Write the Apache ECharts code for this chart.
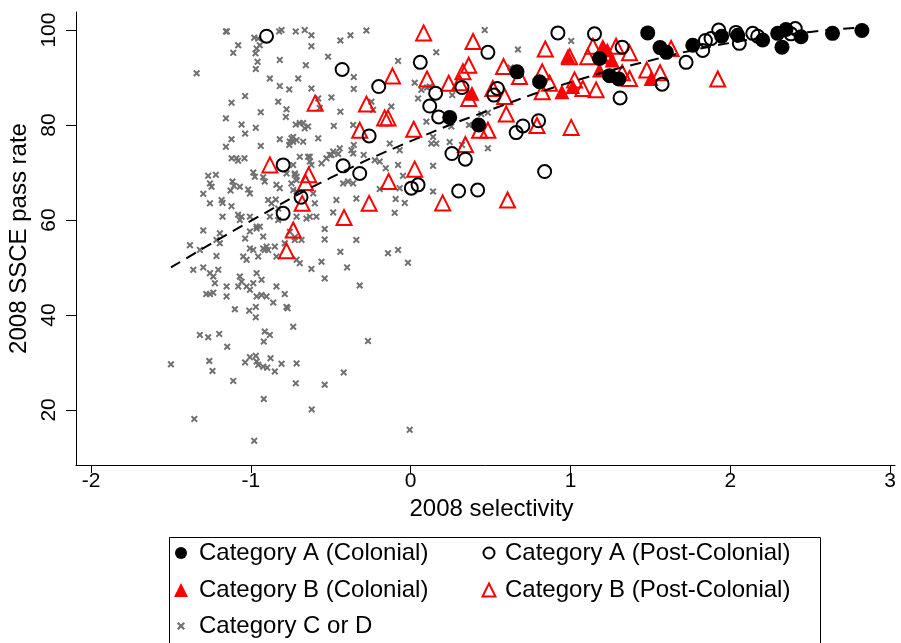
<!DOCTYPE html>
<html>
<head>
<meta charset="utf-8">
<script src="https://cdn.jsdelivr.net/npm/echarts@6/dist/echarts.min.js"></script>
<style>
  html, body { margin: 0; padding: 0; background: #fff; }
  #chart { width: 901px; height: 643px; }
</style>
</head>
<body>
<div id="chart"></div>
<script>
// data: [selectivity, pass rate]
const catAColonial = [
  [0.244, 81.6], [0.425, 80.0], [0.665, 91.2], [0.806, 89.1], [1.181, 94.0], [1.244, 90.4],
  [1.302, 89.7], [1.483, 99.4], [1.56, 96.3], [1.6, 95.3], [1.765, 96.8], [1.945, 98.7],
  [2.046, 98.9], [2.202, 97.9], [2.296, 99.3], [2.348, 100.1], [2.323, 96.4], [2.442, 98.6],
  [2.639, 99.3], [2.823, 99.9]
];
const catAPost = [
  [-0.902, 98.7], [-0.798, 71.6], [-0.686, 64.8], [-0.798, 61.4], [-0.429, 91.7], [-0.2, 88.1],
  [0.06, 93.2], [0.156, 86.7], [0.119, 84.0], [0.175, 81.7], [-0.26, 77.7], [-0.423, 71.4],
  [-0.319, 69.8], [0.004, 66.7], [0.046, 67.4], [0.921, 99.4], [0.483, 95.3], [0.321, 87.9],
  [0.542, 87.7], [0.521, 86.3], [0.8, 80.9], [0.702, 79.8], [0.66, 78.4], [0.258, 74.0],
  [0.342, 72.8], [0.838, 70.2], [0.3, 66.1], [0.419, 66.3], [1.15, 99.2], [1.323, 96.4],
  [1.723, 93.2], [1.573, 88.6], [1.31, 85.7], [1.927, 100], [1.827, 95.7], [1.844, 97.8],
  [1.879, 98.2], [2.056, 97.2], [2.14, 99.3], [2.171, 98.7], [2.406, 100.3], [2.379, 99.2],
  [2.035, 99.5]
];
const catBColonial = [
  [0.383, 86.7], [0.983, 94.5], [0.946, 87.0], [1.014, 88.1], [1.202, 96.6], [1.26, 93.7],
  [1.181, 91.6], [1.504, 89.8], [1.2, 94.4], [1.23, 95.8]
];
const catBPost = [
  [-0.881, 71.6], [-0.735, 57.9], [-0.777, 53.5], [-0.638, 69.5], [-0.658, 67.9], [-0.679, 63.5],
  [0.025, 70.7], [-0.138, 68.1], [-0.26, 63.5], [-0.417, 60.5], [0.081, 99.4], [-0.598, 84.6],
  [-0.114, 90.3], [0.102, 89.7], [-0.277, 84.4], [-0.163, 81.5], [-0.142, 81.5], [-0.319, 78.9],
  [0.019, 79.1], [0.39, 97.6], [0.842, 96.0], [0.363, 92.6], [0.327, 91.2], [0.581, 92.3],
  [0.681, 90.2], [0.238, 88.8], [0.306, 88.9], [0.363, 85.6], [0.514, 87.7], [0.588, 86.0],
  [0.823, 91.2], [0.823, 87.0], [0.869, 88.8], [0.598, 82.3], [0.79, 79.9], [1.004, 79.5],
  [0.431, 78.9], [0.483, 78.9], [0.342, 75.9], [0.2, 63.6], [0.606, 64.2], [1.108, 94.4],
  [1.14, 96.6], [1.285, 96.6], [1.369, 95.2], [1.323, 91.0], [1.369, 89.8], [0.994, 94.4],
  [1.477, 91.6], [1.56, 91.0], [1.629, 96.1], [1.077, 87.7], [1.16, 87.4], [1.025, 89.5],
  [1.921, 89.7]
];
const catCD = [
  [-1.156, 99.7], [-1.15, 99.7], [-1.079, 96.8], [-1.11, 95.2], [-1.339, 90.9], [-0.979, 98.4],
  [-0.954, 98.2], [-0.944, 96.8], [-0.964, 96.1], [-0.971, 95.1], [-0.958, 93.3], [-0.969, 91.8],
  [-0.823, 99.7], [-0.808, 100.0], [-0.719, 99.7], [-0.819, 93.7], [-0.881, 89.8], [-0.704, 89.8],
  [-0.819, 88.2], [-0.76, 87.5], [-1.036, 86.1], [-1.121, 84.7], [-0.829, 84.9], [-0.777, 83.3],
  [-0.781, 81.7], [-0.938, 82.7], [-1.156, 81.4], [-1.058, 80.1], [-0.969, 79.4], [-1.036, 78.2],
  [-1.121, 77.0], [-1.156, 75.4], [-0.938, 75.6], [-0.819, 77.0], [-0.719, 80.1], [-0.746, 77.2],
  [-0.736, 76.5], [-0.76, 75.8], [-0.714, 76.8], [-1.12, 73.0], [-1.09, 73.0], [-1.04, 73.0],
  [-1.08, 72.5], [-1.267, 69.3], [-1.219, 69.5], [-1.256, 67.7], [-1.246, 67.0], [-1.298, 65.5],
  [-1.256, 63.5], [-1.183, 64.2], [-1.177, 63.6], [-1.115, 68.1], [-1.106, 67.2], [-1.069, 67.0],
  [-1.127, 66.2], [-1.017, 66.4], [-1.006, 65.6], [-0.985, 70.0], [-0.975, 69.1], [-0.923, 69.0],
  [-0.913, 68.1], [-1.121, 62.9], [-1.177, 60.7], [-1.08, 61.1], [-1.069, 60.0], [-1.058, 60.7],
  [-1.006, 60.7], [-0.964, 58.6], [-0.944, 58.6], [-0.892, 64.2], [-0.871, 63.5], [-0.844, 64.3],
  [-0.829, 62.4], [-0.84, 67.4], [-0.819, 66.7], [-0.777, 69.8], [-0.725, 69.5], [-0.714, 68.4],
  [-0.881, 60.7], [-0.829, 60.0], [-1.298, 57.8], [-1.194, 57.2], [-1.215, 55.8], [-1.194, 55.1],
  [-1.381, 54.7], [-1.036, 56.1], [-1.006, 57.6], [-0.964, 58.2], [-0.923, 56.5], [-0.913, 53.7],
  [-0.902, 54.4], [-0.892, 53.7], [-0.923, 54.0], [-1.006, 54.0], [-0.985, 53.7], [-1.048, 52.3],
  [-1.027, 51.6], [-0.954, 52.3], [-0.85, 54.4], [-0.84, 52.3], [-0.788, 55.1], [-0.725, 55.8],
  [-1.36, 49.5], [-1.298, 50.0], [-1.256, 48.8], [-1.235, 48.1], [-1.204, 49.5], [-1.215, 52.4],
  [-1.319, 53.7], [-1.225, 46.7], [-1.152, 46.0], [-1.069, 48.1], [-1.058, 47.0], [-1.079, 46.0],
  [-1.027, 46.0], [-0.985, 46.7], [-0.964, 48.8], [-0.933, 47.4], [-1.006, 45.3], [-1.279, 44.4],
  [-1.256, 44.4], [-1.235, 44.7], [-1.152, 43.9], [-0.964, 43.9], [-0.933, 44.2], [-0.902, 43.9],
  [-0.84, 46.0], [-0.788, 44.4], [-0.86, 42.6], [-0.777, 41.7], [-0.77, 41.4], [-1.1, 41.2],
  [-1.01, 40.9], [-0.969, 41.7], [-0.969, 39.5], [-0.735, 37.5], [-1.319, 35.8], [-1.267, 35.3],
  [-1.198, 36.0], [-1.148, 33.3], [-0.913, 36.5], [-0.881, 35.8], [-0.919, 34.4], [-1.5, 29.6],
  [-1.26, 30.3], [-1.24, 28.2], [-1.036, 30.0], [-1.006, 31.1], [-0.969, 31.4], [-0.964, 30.2],
  [-0.954, 29.5], [-0.923, 29.1], [-0.898, 28.9], [-0.877, 30.9], [-0.85, 28.1], [-0.808, 29.7],
  [-0.714, 29.8], [-0.719, 25.6], [-1.11, 26.1], [-0.919, 22.3], [-1.354, 18.1], [-0.979, 13.5],
  [-0.267, 34.5], [-0.538, 25.3], [-0.419, 27.9], [-0.619, 20.1], [-0.006, 15.8],
  [-0.663, 100], [-0.621, 98.9], [-0.621, 96.6], [-0.44, 97.8], [-0.377, 98.9], [-0.277, 99.9],
  [-0.517, 94.4], [-0.656, 92.6], [-0.356, 90.1], [-0.356, 87.6], [-0.621, 87.7], [-0.496, 85.8],
  [-0.579, 85.6], [-0.569, 83.6], [-0.44, 82.8], [-0.246, 84.9], [-0.235, 83.2], [-0.121, 83.9],
  [-0.079, 93.5], [0.16, 95.3], [0.025, 88.9], [0.046, 85.6], [0.067, 87.4], [0.102, 87.9],
  [0.119, 88.1], [0.098, 80.7], [0.14, 77.5], [0.129, 76.1], [-0.694, 80.4], [-0.673, 80.4],
  [-0.663, 79.3], [-0.642, 79.7], [-0.735, 77.5], [-0.756, 76.5], [-0.673, 76.5], [-0.579, 77.2],
  [-0.481, 79.8], [-0.444, 75.1], [-0.485, 74.4], [-0.506, 73.7], [-0.36, 80.0], [-0.356, 75.8],
  [-0.371, 74.7], [-0.694, 73.3], [-0.631, 73.3], [0.16, 76.1], [-0.225, 72.6], [-0.131, 76.1],
  [-0.069, 74.7], [-0.642, 73.3], [-0.631, 72.3], [-0.621, 71.6], [-0.558, 71.9], [-0.527, 73.0],
  [-0.496, 73.7], [-0.454, 73.9], [-0.36, 74.0], [-0.294, 73.7], [-0.725, 69.8], [-0.714, 69.1],
  [-0.735, 71.6], [-0.746, 67.7], [-0.735, 66.3], [-0.714, 66.0], [-0.61, 65.6], [-0.6, 63.5],
  [-0.465, 64.2], [-0.423, 67.7], [-0.392, 68.1], [-0.36, 67.7], [-0.34, 64.5], [-0.194, 72.3],
  [-0.194, 66.5], [-0.156, 70.9], [-0.079, 71.6], [-0.048, 69.3], [-0.069, 66.7], [-0.037, 63.6],
  [-0.094, 64.4], [-0.1, 61.5], [0.14, 71.4], [0.14, 66.0], [-0.485, 61.6], [-0.714, 60.7],
  [-0.652, 60.3], [-0.631, 60.7], [-0.59, 60.7], [-0.756, 57.5], [-0.725, 56.4], [-0.683, 55.8],
  [-0.538, 58.1], [-0.538, 55.9], [-0.34, 55.8], [-0.44, 53.3], [-0.714, 51.6], [-0.694, 50.9],
  [-0.558, 51.2], [-0.621, 49.7], [-0.398, 50.0], [-0.538, 47.7], [-0.319, 46.2], [-0.142, 53.0],
  [-0.079, 53.7], [-0.017, 51.0], [0.463, 100], [1.004, 97.7], [0.671, 95.9], [0.625, 92.1],
  [0.26, 86.3], [0.442, 82.3], [0.483, 82.6], [0.365, 80.0], [0.254, 79.7], [0.244, 76.4],
  [0.321, 75.8], [0.483, 75.1]
];
// dashed fitted curve
const fitLine = [
  [-1.5, 50.0], [-1.0, 59.8], [-0.5, 68.9], [0.0, 76.6], [0.5, 83.2], [1.0, 89.0],
  [1.5, 93.6], [2.0, 97.3], [2.5, 99.6], [2.85, 100.6]
];
const xTicks = [-2, -1, 0, 1, 2, 3];
const yTicks = [20, 40, 60, 80, 100];

const font = 'Liberation Sans, Arial, Helvetica, sans-serif';
const crossPath = 'path://M0,2L2,0L5,3L8,0L10,2L7,5L10,8L8,10L5,7L2,10L0,8L3,5Z';
const grey = '#707070';

// one legend block per entry; icon centred on cx, text starting at tx
function legendItem(name, icon, cx, tx, top, size, color) {
  const item = { name: name, icon: icon };
  if (color) item.itemStyle = { color: color };
  const left = cx - size / 2;
  return {
    orient: 'horizontal', left: left, top: top, padding: 0, itemWidth: size, itemHeight: size,
    textStyle: {
      fontFamily: font, fontSize: 24, lineHeight: 24, color: '#000',
      padding: [0, 0, 0, tx - (left + size + 5)]
    },
    data: [item]
  };
}

const chart = echarts.init(document.getElementById('chart'));
chart.setOption({
  animation: false,
  backgroundColor: '#fff',
  grid: { left: 76, right: 6, top: 12, bottom: 178, containLabel: false, outerBoundsMode: 'none' },
  xAxis: {
    type: 'value', min: -2.094, max: 3.03,
    name: '2008 selectivity', nameLocation: 'middle', nameGap: 32,
    nameTextStyle: { fontFamily: font, fontSize: 24, color: '#000', padding: [0, 0, 0, 12] },
    axisLine: { show: true, onZero: false, lineStyle: { color: '#000', width: 1 } },
    axisTick: { show: true, length: 8, customValues: xTicks, lineStyle: { color: '#000' } },
    axisLabel: { customValues: xTicks, fontFamily: font, fontSize: 21, color: '#000', margin: 6 },
    splitLine: { show: false }
  },
  yAxis: {
    type: 'value', min: 8.4, max: 103.8,
    name: '2008 SSCE pass rate', nameLocation: 'middle', nameGap: 31, nameRotate: 90,
    nameTextStyle: { fontFamily: font, fontSize: 24, color: '#000' },
    axisLine: { show: true, onZero: false, lineStyle: { color: '#000', width: 1 } },
    axisTick: { show: true, length: 10, customValues: yTicks, lineStyle: { color: '#000' } },
    axisLabel: { customValues: yTicks, rotate: 90, fontFamily: font, fontSize: 21, color: '#000', margin: 16 },
    splitLine: { show: false }
  },
  legend: [
    legendItem('Category A (Colonial)', 'circle', 181, 199, 541, 12),
    legendItem('Category B (Colonial)', 'triangle', 181, 199, 578, 14),
    legendItem('Category C or D', crossPath, 181, 199, 614, 8, grey),
    legendItem('Category A (Post-Colonial)', 'circle', 488, 504, 541, 11),
    legendItem('Category B (Post-Colonial)', 'triangle', 488, 504, 578, 13)
  ],
  graphic: [
    { type: 'rect', left: 167, top: 535, shape: { width: 651, height: 120 },
      style: { fill: 'none', stroke: '#000', lineWidth: 1 }, silent: true }
  ],
  series: [
    {
      name: 'Category C or D', type: 'scatter', data: catCD, symbol: crossPath, symbolSize: 7,
      itemStyle: { color: grey, opacity: 1 }, z: 2
    },
    {
      name: 'Category B (Post-Colonial)', type: 'scatter', data: catBPost, symbol: 'triangle', symbolSize: 15,
      itemStyle: { color: 'rgba(255,255,255,0)', borderColor: '#f00', borderWidth: 2, opacity: 1 }, z: 3
    },
    {
      name: 'Category B (Colonial)', type: 'scatter', data: catBColonial, symbol: 'triangle', symbolSize: 15,
      itemStyle: { color: '#f00', opacity: 1 }, z: 4
    },
    {
      name: 'Category A (Post-Colonial)', type: 'scatter', data: catAPost, symbol: 'circle', symbolSize: 13,
      itemStyle: { color: 'rgba(255,255,255,0)', borderColor: '#000', borderWidth: 2, opacity: 1 }, z: 5
    },
    {
      name: 'Category A (Colonial)', type: 'scatter', data: catAColonial, symbol: 'circle', symbolSize: 15,
      itemStyle: { color: '#000', opacity: 1 }, z: 6
    },
    {
      name: 'fit', type: 'line', data: fitLine, smooth: true, symbol: 'none', z: 7,
      lineStyle: { color: '#000', width: 2, type: [11, 7] }
    }
  ]
});
</script>
</body>
</html>
